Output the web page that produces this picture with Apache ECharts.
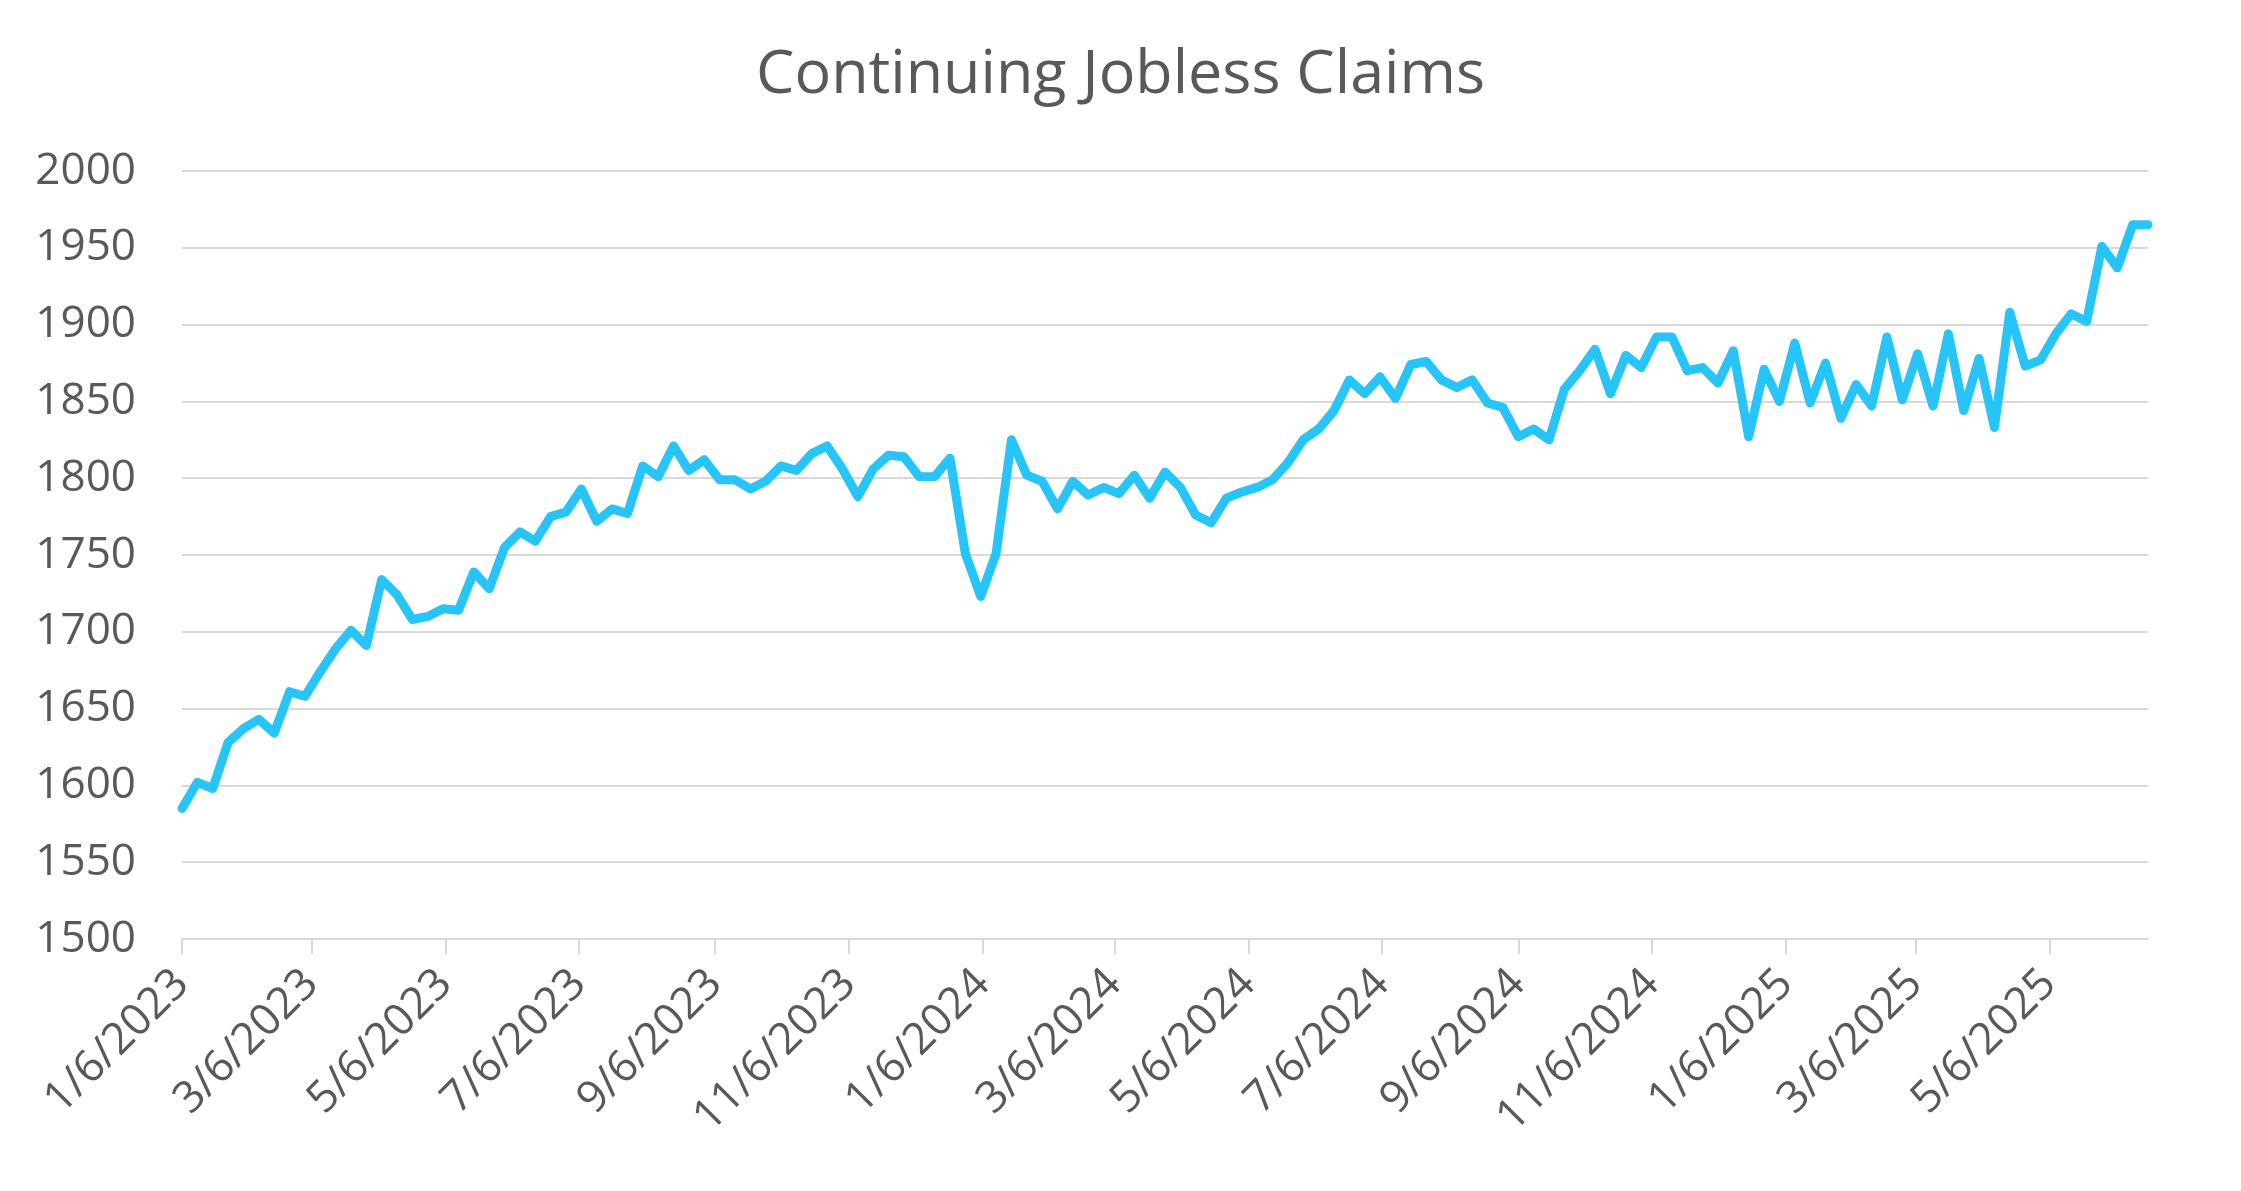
<!DOCTYPE html>
<html>
<head>
<meta charset="utf-8">
<script src="https://cdn.jsdelivr.net/npm/echarts@6/dist/echarts.min.js"></script>
<style>
  html, body { margin: 0; padding: 0; background: #ffffff; }
  #chart { width: 2241px; height: 1191px; }
</style>
</head>
<body>
<div id="chart"></div>
<script>
// weekly observations, first week ending 1/6/2023
const startDate = '2023-01-06'
const weeks = 129

// continuing claims, thousands
const claims = [
  1585, 1602, 1598, 1628, 1637, 1643, 1634, 1661, 1658, 1674,
  1689, 1701, 1691, 1734, 1724, 1708, 1710, 1715, 1714, 1739,
  1728, 1755, 1765, 1759, 1775, 1778, 1793, 1772, 1780, 1777,
  1808, 1801, 1821, 1805, 1812, 1799, 1799, 1793, 1798, 1808,
  1805, 1816, 1821, 1806, 1788, 1806, 1815, 1814, 1801, 1801,
  1813, 1751, 1723, 1751, 1825, 1802, 1798, 1780, 1798, 1789,
  1794, 1790, 1802, 1787, 1804, 1794, 1776, 1771, 1787, 1791,
  1794, 1799, 1810, 1825, 1832, 1844, 1864, 1855, 1866, 1852,
  1874, 1876, 1864, 1859, 1864, 1849, 1846, 1827, 1832, 1825,
  1858, 1870, 1884, 1855, 1880, 1872, 1892, 1892, 1870, 1872,
  1862, 1883, 1827, 1871, 1850, 1888, 1849, 1875, 1839, 1861,
  1847, 1892, 1851, 1881, 1847, 1894, 1844, 1878, 1833, 1908,
  1873, 1877, 1894, 1907, 1902, 1951, 1937, 1965, 1965
]

const xTickLabels = [
  '1/6/2023', '3/6/2023', '5/6/2023', '7/6/2023', '9/6/2023', '11/6/2023',
  '1/6/2024', '3/6/2024', '5/6/2024', '7/6/2024', '9/6/2024', '11/6/2024',
  '1/6/2025', '3/6/2025', '5/6/2025'
]

const yMin = 1500
const yMax = 2000
const yStep = 50

const DAY = 86400000

function parseMDY (s) {
  const [m, d, y] = s.split('/').map(Number)
  return Date.UTC(y, m - 1, d)
}

function fmtMDY (t) {
  const d = new Date(t)
  return (d.getUTCMonth() + 1) + '/' + d.getUTCDate() + '/' + d.getUTCFullYear()
}

const t0 = Date.parse(startDate + 'T00:00:00Z')
const dates = []
for (let i = 0; i < weeks; i++) dates.push(t0 + i * 7 * DAY)

const seriesData = claims.map((v, i) => [dates[i], v])
const tickValues = xTickLabels.map(parseMDY)

const textColor = '#595959'
const gridColor = '#d9d9d9'
const font = 'Open Sans'

const chart = echarts.init(document.getElementById('chart'))

chart.setOption({
  backgroundColor: '#ffffff',
  animation: false,
  title: {
    text: 'Continuing Jobless Claims',
    left: 'center',
    top: 40,
    textStyle: {
      color: textColor,
      fontFamily: font,
      fontWeight: 'normal',
      fontSize: 61
    }
  },
  grid: {
    left: 182,
    right: 93,
    top: 171,
    bottom: 252
  },
  xAxis: {
    type: 'value',
    min: dates[0],
    max: dates[dates.length - 1],
    splitLine: { show: false },
    axisLine: { show: true, lineStyle: { color: gridColor, width: 2 } },
    axisTick: {
      show: true,
      length: 15,
      customValues: tickValues,
      lineStyle: { color: gridColor, width: 2 }
    },
    axisLabel: {
      customValues: tickValues,
      rotate: 45,
      margin: 38,
      color: textColor,
      fontFamily: font,
      fontSize: 44,
      formatter: v => fmtMDY(v)
    }
  },
  yAxis: {
    type: 'value',
    min: yMin,
    max: yMax,
    interval: yStep,
    axisLine: { show: false },
    axisTick: { show: false },
    splitLine: { lineStyle: { color: gridColor, width: 2 } },
    axisLabel: {
      margin: 46,
      color: textColor,
      fontFamily: font,
      fontSize: 44,
      formatter: v => String(v)
    }
  },
  series: [{
    type: 'line',
    data: seriesData,
    showSymbol: false,
    smooth: false,
    lineStyle: { color: '#27C5F7', width: 9, cap: 'round', join: 'round' }
  }]
})
</script>
</body>
</html>
